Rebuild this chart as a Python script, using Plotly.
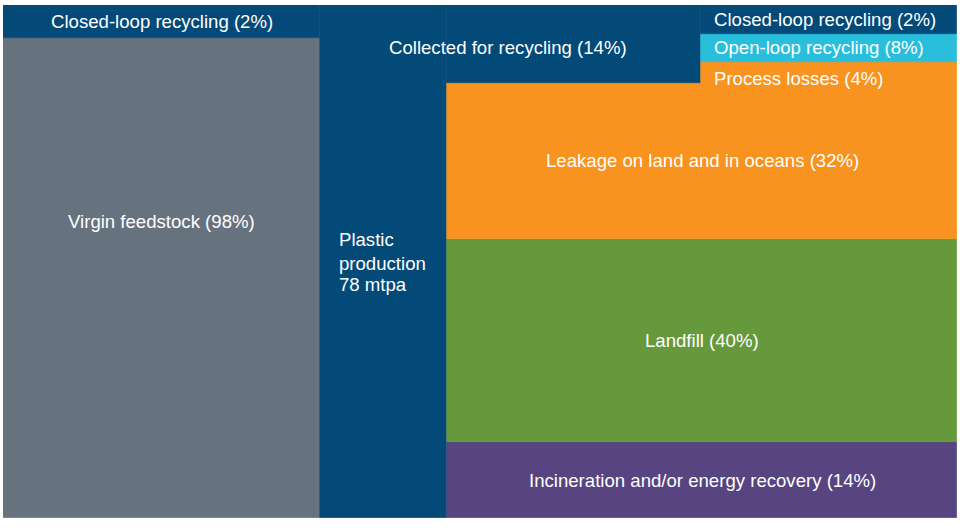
import plotly.graph_objects as go
import numpy as np

# ---- data (bar heights are the drawn shares of the 78 mtpa column, bottom -> top) ----
left_labels = ["Virgin feedstock (98%)", "Closed-loop recycling (2%)"]
left_values = [93.6, 6.4]

prod_lines = ["Plastic", "production", "78 mtpa"]
prod_value = 100.0

fate_labels = ["Incineration and/or energy recovery (14%)", "Landfill (40%)",
               "Leakage on land and in oceans (32%)"]
fate_values = [14.8, 39.6, 30.4]

collected_label = "Collected for recycling (14%)"
collected_value = 15.2

recycle_labels = ["Process losses (4%)", "Open-loop recycling (8%)", "Closed-loop recycling (2%)"]
recycle_values = [4.1, 5.5, 5.6]

# ---- styles ----
GRAY = "#67727F"
NAVY = "#034A79"
ORANGE = "#F7931E"
GREEN = "#66993B"
PURPLE = "#574480"
CYAN = "#29BFDC"
FONT = dict(family="Liberation Sans, Arial, sans-serif", size=18.6, color="white")

col_edges = [0, 317, 444, 698, 954]
def center(a, b):
    return (col_edges[a] + col_edges[b]) / 2
def width(a, b):
    return col_edges[b] - col_edges[a]

fig = go.Figure()

def seg(x0i, x1i, base, h, color):
    fig.add_trace(go.Bar(
        x=[center(x0i, x1i)], y=[h], base=[base], width=[width(x0i, x1i)],
        marker=dict(color=color, line=dict(color=color, width=0.6)),
        hoverinfo="skip", showlegend=False))

# column A: virgin + closed-loop
bA = np.concatenate([[0], np.cumsum(left_values)])
seg(0, 1, bA[0], left_values[0], GRAY)
seg(0, 1, bA[1], left_values[1], NAVY)

# column B: production
seg(1, 2, 0, prod_value, NAVY)

# columns C and D: fates
fate_colors = [PURPLE, GREEN, ORANGE]
bF = np.concatenate([[0], np.cumsum(fate_values)])
for i, v in enumerate(fate_values):
    seg(2, 4, bF[i], v, fate_colors[i])

# column C top: collected
top_fate = bF[-1]
seg(2, 3, top_fate, collected_value, NAVY)

# column D top: recycling split
rec_colors = [ORANGE, CYAN, NAVY]
bR = top_fate + np.concatenate([[0], np.cumsum(recycle_values)])
for i, v in enumerate(recycle_values):
    seg(3, 4, bR[i], v, rec_colors[i])

ann = []
def add(text, x, y, xanchor="center", align="center"):
    ann.append(dict(text=text, x=x, y=y, xref="x", yref="y", showarrow=False,
                    xanchor=xanchor, yanchor="middle", align=align, font=FONT))

add(left_labels[1], center(0, 1), bA[1] + left_values[1] / 2)
add(left_labels[0], center(0, 1), left_values[0] * 0.617)

px = col_edges[1] + 17
add(prod_lines[0] + "<br>" + prod_lines[1], px, 51.9, "left", "left")
add(prod_lines[2], px, 45.6, "left", "left")

add(collected_label, center(1, 3) - 3, top_fate + collected_value / 2 - 0.6)

for i, t in enumerate(recycle_labels):
    y = bR[i] + recycle_values[i] / 2
    if i == 0:
        y -= 1.2
    add(t, col_edges[3] + 11, y, "left")

for i, t in enumerate(fate_labels):
    add(t, center(2, 4), bF[i] + fate_values[i] / 2)

fig.update_layout(
    width=960, height=530,
    margin=dict(l=3, r=3, t=5, b=12),
    barmode="overlay", bargap=0,
    plot_bgcolor="white", paper_bgcolor="white",
    xaxis=dict(range=[0, 954], visible=False, fixedrange=True),
    yaxis=dict(range=[0, 100], visible=False, fixedrange=True),
    annotations=ann,
)
fig.write_html("out.html", config={"displayModeBar": False},
               post_script="document.body.style.margin='0px';")
